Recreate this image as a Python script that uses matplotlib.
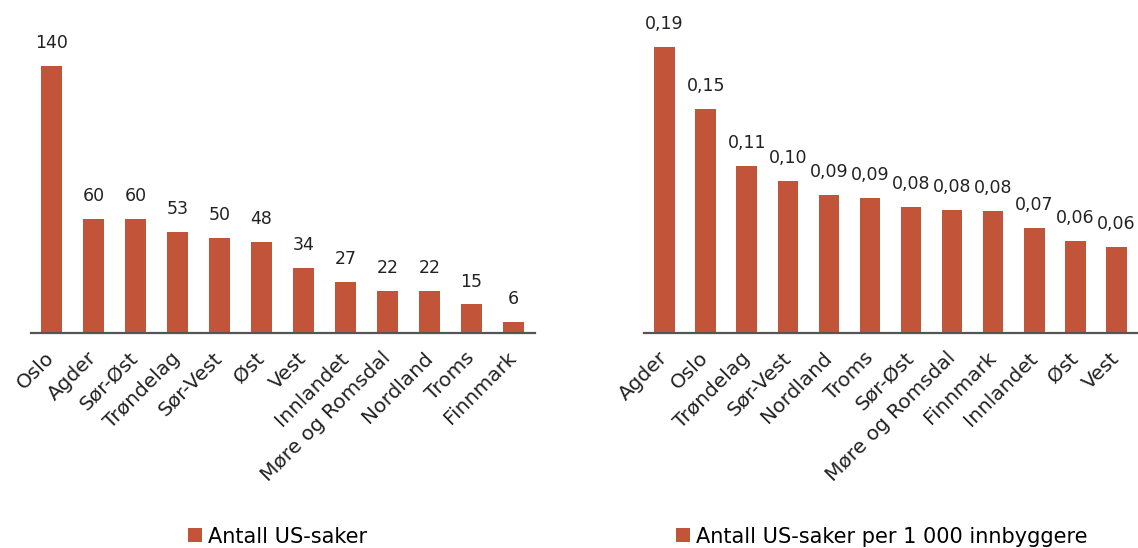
import matplotlib.pyplot as plt

left_names = ["Oslo", "Agder", "Sør-Øst", "Trøndelag", "Sør-Vest", "Øst", "Vest",
              "Innlandet", "Møre og Romsdal", "Nordland", "Troms", "Finnmark"]
left_values = [140, 60, 60, 53, 50, 48, 34, 27, 22, 22, 15, 6]

right_names = ["Agder", "Oslo", "Trøndelag", "Sør-Vest", "Nordland", "Troms", "Sør-Øst",
               "Møre og Romsdal", "Finnmark", "Innlandet", "Øst", "Vest"]
right_values = [0.190, 0.149, 0.111, 0.101, 0.092, 0.090, 0.084, 0.082, 0.081, 0.070, 0.061, 0.057]

bar_color = "#C25539"
plt.rcParams['font.family'] = ['DejaVu Sans']

fig = plt.figure(figsize=(11.38, 5.48), dpi=100)
ax1 = fig.add_axes([30.5 / 1138, 215 / 548, 504 / 1138, 303 / 548])
ax2 = fig.add_axes([644 / 1138, 215 / 548, 493 / 1138, 303 / 548])


def draw(ax, names, values, ymax, fmt, legend_label, leg_x):
    x = range(len(names))
    bars = ax.bar(x, values, width=0.5, color=bar_color, label=legend_label)
    for b, v in zip(bars, values):
        ax.annotate(fmt(v), (b.get_x() + b.get_width() / 2, v), xytext=(0, 10),
                    textcoords="offset points", ha="center", va="bottom",
                    fontsize=12.5, color="#222222")
    ax.set_xlim(-0.5, len(names) - 0.5)
    ax.set_ylim(0, ymax)
    ax.set_xticks(list(x))
    ax.set_xticklabels(names, rotation=45, ha="right", va="center",
                       rotation_mode="anchor", fontsize=14.5, color="#222222")
    ax.tick_params(axis="x", length=0, pad=16)
    ax.set_yticks([])
    for s in ["top", "right", "left"]:
        ax.spines[s].set_visible(False)
    ax.spines["bottom"].set_color("#555555")
    ax.spines["bottom"].set_linewidth(1.6)
    ax.legend(loc="center", bbox_to_anchor=(leg_x, -0.672), frameon=False,
              fontsize=15, handlelength=0.65, handleheight=0.65, handletextpad=0.3)


draw(ax1, left_names, left_values, 159, lambda v: str(v), "Antall US-saker", 0.49)
draw(ax2, right_names, right_values, 0.2013, lambda v: ("%.2f" % v).replace(".", ","),
     "Antall US-saker per 1 000 innbyggere", 0.482)

fig.savefig("out.png", dpi=100)
